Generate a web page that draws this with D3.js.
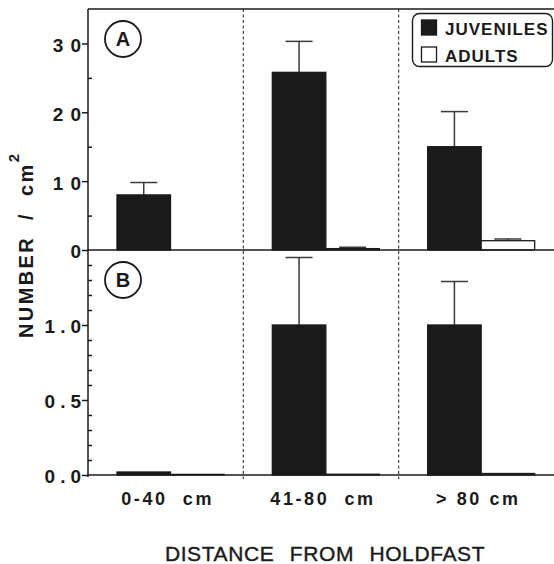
<!DOCTYPE html>
<html>
<head>
<meta charset="utf-8">
<script src="https://cdn.jsdelivr.net/npm/d3@7"></script>
<style>
  body { margin: 0; background: #fff; }
  svg { display: block; font-family: "Liberation Sans", Arial, sans-serif; }
</style>
</head>
<body>
<svg width="554" height="564"></svg>
<script>
// data
var categories = ["0-40  cm", "41-80  cm", "> 80 cm"];
var series = ["JUVENILES", "ADULTS"];

// panel A
var juvA = [8.0, 25.8, 15.0];
var juvAErr = [1.8, 4.5, 5.1];
var adA = [0, 0.2, 1.35];
var adAErr = [0, 0.2, 0.25];
// panel B
var juvB = [0.02, 1.0, 1.0];
var juvBErr = [0, 0.45, 0.29];
var adB = [0.004, 0.005, 0.01];
var adBErr = [0, 0, 0];

var ticksA = [0, 10, 20, 30];
var minorA = [5, 15, 25];
var ticksB = [0, 0.5, 1.0];
var minorB = [0.1, 0.2, 0.3, 0.4, 0.6, 0.7, 0.8, 0.9, 1.1, 1.2, 1.3, 1.4];

var svg = d3.select("svg");
var pLeft = 88, pRight = 554, pTop = 9, pMid = 250, pBottom = 475;
var ink = "#1a1a1a";

var x0 = d3.scaleBand().domain(categories).range([pLeft, pRight]);
var x1 = d3.scaleBand().domain(series).range([29, 136]);

var yA = d3.scaleLinear().domain([0, 35]).range([pMid, pTop]);
var yB = d3.scaleLinear().domain([0, 1.5]).range([pBottom, pMid]);

function drawPanel(y, juv, juvErr, ad, adErr, ticks, minor, fmt, ls, letter) {
    // major ticks outward
    var ax = svg.append("g")
        .attr("transform", "translate(" + pLeft + ",0)")
        .call(d3.axisLeft(y).tickValues(ticks).tickSize(6).tickSizeOuter(0).tickFormat(fmt));
    ax.select(".domain").remove();
    ax.selectAll(".tick line").attr("stroke", ink).attr("stroke-width", 1.5);
    ax.selectAll(".tick text")
        .attr("x", -7 + ls)
        .attr("dy", "0.42em")
        .attr("fill", ink)
        .style("font-size", "19px")
        .style("font-weight", "bold")
        .style("letter-spacing", ls + "px")
        .style("font-family", "'Liberation Sans', Arial, sans-serif");
    // minor ticks inward
    var mx = svg.append("g")
        .attr("transform", "translate(" + pLeft + ",0)")
        .call(d3.axisLeft(y).tickValues(minor).tickSize(-4).tickSizeOuter(0).tickFormat(""));
    mx.select(".domain").remove();
    mx.selectAll(".tick line").attr("stroke", ink).attr("stroke-width", 1.5);

    var rows = categories.map(function(c, i) {
        return [
            {cat: c, s: "JUVENILES", v: juv[i], e: juvErr[i]},
            {cat: c, s: "ADULTS", v: ad[i], e: adErr[i]}
        ];
    });
    var flat = [].concat.apply([], rows).filter(function(d) { return d.v > 0; });

    var g = svg.append("g");
    // error bars first
    flat.filter(function(d) { return d.e > 0; }).forEach(function(d) {
        var cx = x0(d.cat) + x1(d.s) + x1.bandwidth() / 2;
        g.append("line")
            .attr("x1", cx).attr("x2", cx)
            .attr("y1", y(d.v)).attr("y2", y(d.v + d.e))
            .attr("stroke", "#3a3a3a").attr("stroke-width", 1.5);
        g.append("line")
            .attr("x1", cx - 13.5).attr("x2", cx + 13.5)
            .attr("y1", y(d.v + d.e)).attr("y2", y(d.v + d.e))
            .attr("stroke", "#3a3a3a").attr("stroke-width", 1.5);
    });
    g.selectAll("rect.bar").data(flat).enter().append("rect")
        .attr("class", "bar")
        .attr("x", function(d) { return x0(d.cat) + x1(d.s); })
        .attr("width", x1.bandwidth())
        .attr("y", function(d) { return y(d.v); })
        .attr("height", function(d) { return y(0) - y(d.v); })
        .attr("fill", function(d) { return d.s === "JUVENILES" ? ink : "#fff"; })
        .attr("stroke", ink)
        .attr("stroke-width", 1.3);

    // circled panel letter
    var cy = y.range()[1] + 30;
    svg.append("circle").attr("cx", 123).attr("cy", cy).attr("r", 18)
        .attr("fill", "none").attr("stroke", ink).attr("stroke-width", 1.8);
    svg.append("text").attr("x", 123).attr("y", cy).attr("dy", "0.36em")
        .attr("text-anchor", "middle").attr("fill", ink)
        .style("font-size", "20px").style("font-weight", "bold").text(letter);
}

drawPanel(yA, juvA, juvAErr, adA, adAErr, ticksA, minorA, d3.format("d"), 7, "A");
drawPanel(yB, juvB, juvBErr, adB, adBErr, ticksB, minorB, d3.format(".1f"), 5, "B");

// frame
var frame = svg.append("g").attr("stroke", ink).attr("stroke-width", 1.5);
frame.append("line").attr("x1", pLeft).attr("x2", pLeft).attr("y1", pTop).attr("y2", pBottom + 2);
frame.append("line").attr("x1", pLeft).attr("x2", pRight).attr("y1", pTop).attr("y2", pTop);
frame.append("line").attr("x1", pLeft).attr("x2", pRight).attr("y1", pMid).attr("y2", pMid);
frame.append("line").attr("x1", pLeft).attr("x2", pRight).attr("y1", pBottom).attr("y2", pBottom);

// dotted dividers between distance classes
svg.selectAll("line.divider").data(categories.slice(1)).enter().append("line")
    .attr("class", "divider")
    .attr("x1", function(d) { return x0(d); })
    .attr("x2", function(d) { return x0(d); })
    .attr("y1", pTop).attr("y2", pBottom + 4)
    .attr("stroke", "#333").attr("stroke-width", 1.1)
    .attr("stroke-dasharray", "3,2.5");

// x category labels
var xa = svg.append("g")
    .attr("transform", "translate(0," + pBottom + ")")
    .call(d3.axisBottom(x0).tickSize(0));
xa.select(".domain").remove();
xa.selectAll(".tick text")
    .attr("y", 30)
    .attr("dy", 0)
    .attr("dx", "2px")
    .attr("fill", ink)
    .style("font-size", "18px")
    .style("font-weight", "bold")
    .style("letter-spacing", "2.6px")
    .style("white-space", "pre")
    .style("font-family", "'Liberation Sans', Arial, sans-serif");

// axis titles
svg.append("text")
    .attr("x", 325).attr("y", 561)
    .attr("text-anchor", "middle")
    .attr("fill", ink)
    .style("font-size", "21px")
    .style("letter-spacing", "0.6px")
    .style("word-spacing", "9px")
    .style("stroke", ink)
    .style("stroke-width", "0.4px")
    .text("DISTANCE FROM HOLDFAST");

var yl = svg.append("text")
    .attr("transform", "translate(33,338) rotate(-90)")
    .attr("fill", ink)
    .style("font-size", "20px")
    .style("font-weight", "bold")
    .style("letter-spacing", "2.4px")
    .style("white-space", "pre");
yl.append("tspan").text("NUMBER  /  cm");
yl.append("tspan").attr("dy", -14).style("font-size", "15px").text("2");

// legend
var lg = svg.append("g");
lg.append("rect").attr("x", 412.5).attr("y", 13.5).attr("width", 140).attr("height", 53)
    .attr("rx", 7).attr("fill", "#fff").attr("stroke", ink).attr("stroke-width", 1.4);
series.forEach(function(s, i) {
    var yy = 20 + i * 27;
    lg.append("rect").attr("x", 421.5).attr("y", yy).attr("width", 15).attr("height", 15)
        .attr("fill", i === 0 ? ink : "#fff").attr("stroke", ink).attr("stroke-width", 1.3);
    lg.append("text").attr("x", 445).attr("y", yy + 15)
        .attr("fill", ink)
        .style("font-size", "17px")
        .style("font-weight", "bold")
        .style("letter-spacing", "1px")
        .text(s);
});
</script>
</body>
</html>
